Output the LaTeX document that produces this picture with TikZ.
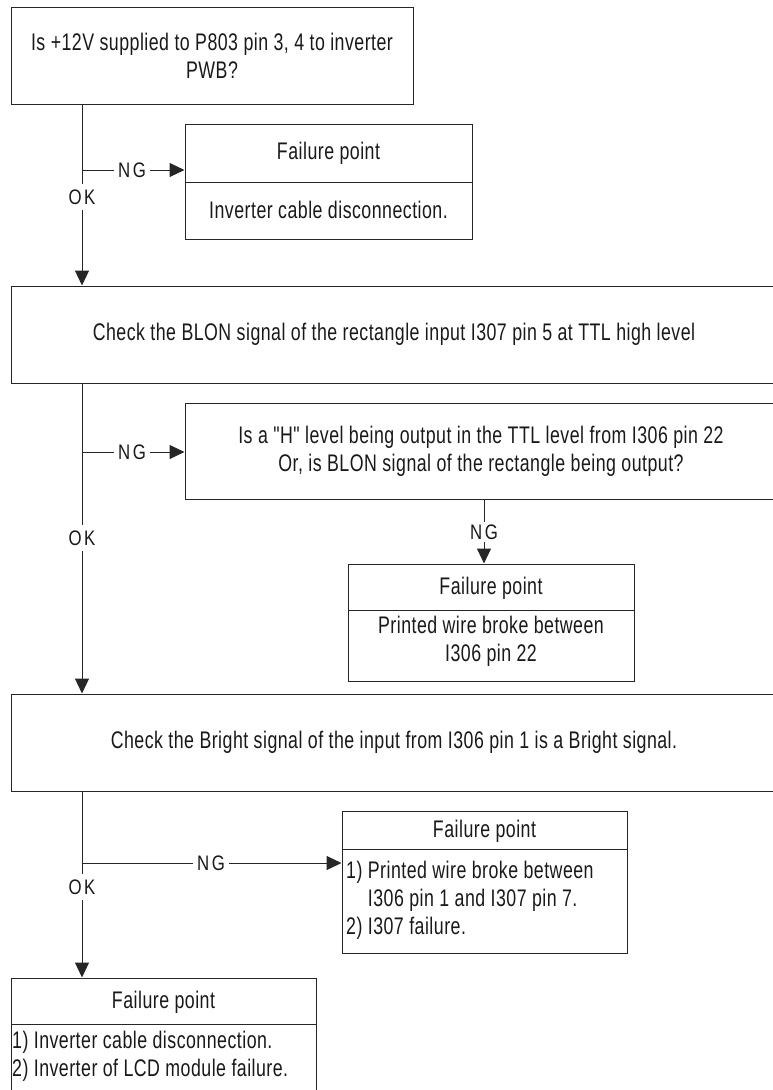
\documentclass[tikz,border=0pt]{standalone}
\usepackage{fontspec}
\setmainfont{Liberation Sans}[FakeStretch=0.74,LetterSpace=2,Ligatures=TeXOff]
\newfontfamily\lblfont{Liberation Sans}[FakeStretch=0.8,LetterSpace=12]
\usetikzlibrary{arrows.meta}
\begin{document}
\begin{tikzpicture}[x=1pt,y=-1pt,
  every node/.style={font=\fontsize{24}{28}\selectfont, text=black!90},
  box/.style={draw=black!85, line width=1pt, inner sep=0pt, align=center},
  ln/.style={draw=black!85, line width=1pt},
  arr/.style={draw=black!85, line width=1pt, -{Triangle[length=15pt,width=14pt]}},
  lbl/.style={font=\lblfont\fontsize{21}{24}\selectfont, fill=white, inner xsep=4pt, inner ysep=6pt},
  txt/.style={inner sep=0pt, align=center}]
\useasboundingbox (0,0) rectangle (773,1090);

% main boxes
\node[box, minimum width=402, minimum height=97] (b1) at (212,55.5)
  {Is +12V supplied to P803 pin 3, 4 to inverter\\PWB?};
\node[box, minimum width=766, minimum height=97] (b2) at (394,334.5)
  {Check the BLON signal of the rectangle input I307 pin 5 at TTL high level};
\node[box, minimum width=592, minimum height=96] (q) at (481,451)
  {Is a "H" level being output in the TTL level from I306 pin 22\\Or, is BLON signal of the rectangle being output?};
\node[box, minimum width=766, minimum height=97] (b4) at (394,742.5)
  {Check the Bright signal of the input from I306 pin 1 is a Bright signal.};

% failure box 1
\node[box, minimum width=287, minimum height=115] (f1) at (328.5,181.5) {};
\draw[ln] (185,182) -- (472,182);
\node[txt] (f1h) at (328.5,153) {Failure point};
\node[txt] (f1b) at (328.5,210) {Inverter cable disconnection.};

% failure box 2
\node[box, minimum width=286, minimum height=117] (f2) at (491,622.5) {};
\draw[ln] (348,610) -- (634,610);
\node[txt] (f2h) at (491,588) {Failure point};
\node[txt] (f2b) at (491,641) {Printed wire broke between\\I306 pin 22};

% failure box 3
\node[box, minimum width=285, minimum height=142] (f3) at (484.5,882) {};
\draw[ln] (342,849) -- (627,849);
\node[txt] (f3h) at (484.5,831) {Failure point};
\node[txt, align=left, anchor=west] (f3b) at (346,900)
  {1) Printed wire broke between\\\phantom{1) }I306 pin 1 and I307 pin 7.\\2) I307 failure.};

% failure box 5
\node[box, minimum width=305, minimum height=122] (f5) at (163.5,1039) {};
\draw[ln] (11,1024) -- (316,1024);
\node[txt] (f5h) at (163.5,1002) {Failure point};
\node[txt, align=left, anchor=west] (f5b) at (12,1056)
  {1) Inverter cable disconnection.\\2) Inverter of LCD module failure.};

% junctions
\coordinate (j1) at (82,170);
\coordinate (j2) at (82,452);
\coordinate (j3) at (484,452);
\coordinate (j4) at (82,863);

% connectors
\draw[arr] (j1 |- b1.south) -- (j1 |- b2.north);
\draw[arr] (j1) -- (f1.west |- j1);
\node[lbl] (ng1) at (132,170) {NG};
\node[lbl] (ok1) at (82,197) {OK};

\draw[arr] (j2 |- b2.south) -- (j2 |- b4.north);
\draw[arr] (j2) -- (q.west |- j2);
\node[lbl] (ng2) at (132,452) {NG};
\node[lbl] (ok2) at (82,538) {OK};

\draw[arr] (j3 |- q.south) -- (j3 |- f2.north);
\node[lbl, inner ysep=3pt] (ng3) at (484,532) {NG};

\draw[arr] (j4 |- b4.south) -- (j4 |- f5.north);
\draw[arr] (j4) -- (f3.west |- j4);
\node[lbl] (ng4) at (211,863) {NG};
\node[lbl] (ok4) at (82,887) {OK};
\end{tikzpicture}
\end{document}
